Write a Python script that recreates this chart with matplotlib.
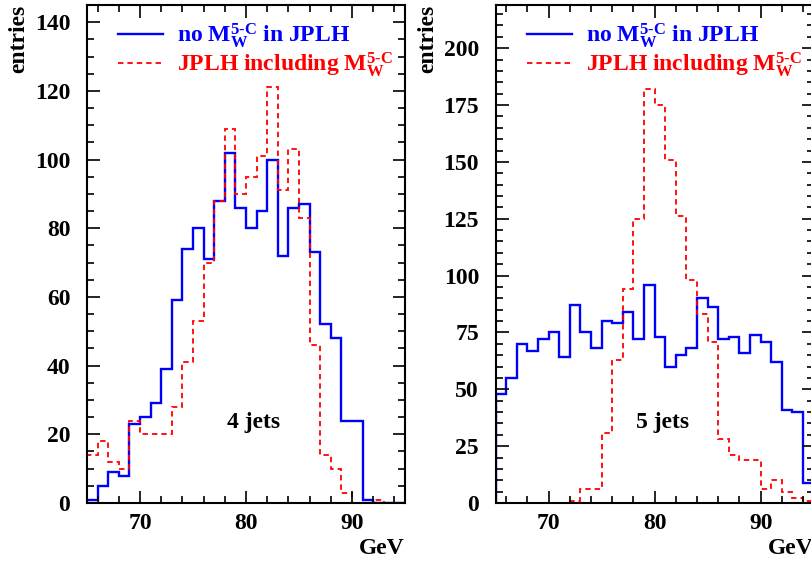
import numpy as np
import matplotlib
matplotlib.use('Agg')
import matplotlib.pyplot as plt
from matplotlib.ticker import MultipleLocator

# ---- data (1 GeV bins from 65 to 95 GeV) ----
bin_edges = np.arange(65, 96, 1)

jets4_no_mw = [1, 5, 9, 8, 23, 25, 29, 39, 59, 74, 80, 71, 88, 102, 86,
               80, 85, 100, 72, 86, 87, 73, 52, 48, 24, 24, 1, 0, 0, 0]
jets4_with_mw = [14, 18, 12, 10, 24, 20, 20, 20, 28, 41, 53, 70, 88, 109, 90,
                 95, 101, 121, 91, 103, 83, 46, 14, 10, 3, 0, 0, 1, 0, 0]

jets5_no_mw = [48, 55, 70, 67, 72, 75, 64, 87, 75, 68, 80, 79, 84, 72, 96,
               73, 60, 65, 68, 90, 86, 72, 73, 66, 74, 71, 62, 41, 40, 9]
jets5_with_mw = [0, 0, 0, 0, 0, 0, 0, 1, 6, 6, 31, 63, 94, 125, 182,
                 175, 151, 126, 98, 83, 71, 28, 21, 19, 19, 6, 10, 5, 2, 1]

panel_labels = ['4 jets', '5 jets']
series_labels = [r'no $\mathrm{M}_{\mathrm{W}}^{\mathrm{5\text{-}C}}$ in JPLH',
                 r'JPLH including $\mathrm{M}_{\mathrm{W}}^{\mathrm{5\text{-}C}}$']
x_ticks = [70, 80, 90]

plt.rcParams['font.family'] = ['Liberation Serif', 'DejaVu Serif']
plt.rcParams['font.weight'] = 'bold'
plt.rcParams['mathtext.fontset'] = 'custom'
plt.rcParams['mathtext.rm'] = 'Liberation Serif:bold'
plt.rcParams['mathtext.it'] = 'Liberation Serif:bold'
plt.rcParams['mathtext.bf'] = 'Liberation Serif:bold'

W, H = 812, 565
fig = plt.figure(figsize=(W / 100, H / 100), dpi=100)
ax1 = fig.add_axes([87 / W, 62 / H, 318 / W, 498 / H])
ax2 = fig.add_axes([495.7 / W, 62 / H, 318 / W, 498 / H])

configs = [
    (ax1, jets4_no_mw, jets4_with_mw, 145, 20, 5, panel_labels[0]),
    (ax2, jets5_no_mw, jets5_with_mw, 219, 25, 5, panel_labels[1]),
]

for ax, blue_vals, red_vals, ymax, ymaj, ymin, plabel in configs:
    ax.stairs(blue_vals, bin_edges, color='#0000ff', lw=1.7, label=series_labels[0])
    ax.stairs(red_vals, bin_edges, color='#ff0000', lw=1.3, linestyle=(0, (3, 2.2)),
              label=series_labels[1])
    ax.set_xlim(65, 95)
    ax.set_ylim(0, ymax)
    ax.xaxis.set_major_locator(MultipleLocator(10))
    ax.xaxis.set_minor_locator(MultipleLocator(2))
    ax.yaxis.set_major_locator(MultipleLocator(ymaj))
    ax.yaxis.set_minor_locator(MultipleLocator(ymin))
    ax.set_xticks(x_ticks)
    ax.tick_params(which='both', direction='in', top=True, right=True,
                   labelsize=17, width=1.2, colors='black')
    ax.tick_params(which='major', length=9)
    ax.tick_params(which='minor', length=5)
    ax.tick_params(axis='y', pad=12)
    ax.tick_params(axis='x', pad=7)
    for lab in ax.get_xticklabels() + ax.get_yticklabels():
        lab.set_fontweight('bold')
    for sp in ax.spines.values():
        sp.set_linewidth(1.5)
    ax.text(0.525, 0.161, plabel, transform=ax.transAxes, ha='center', va='center',
            fontsize=17, fontweight='bold')
    ax.text(-0.215, 1.0, 'entries', transform=ax.transAxes, rotation=90,
            ha='center', va='top', fontsize=17, fontweight='bold')
    ax.text(1.0, -0.092, 'GeV', transform=ax.transAxes, ha='right', va='center',
            fontsize=17, fontweight='bold')
    leg = ax.legend(loc='upper left', bbox_to_anchor=(0.098, 0.968), frameon=False,
                    fontsize=17, handlelength=1.9, handletextpad=0.6,
                    labelspacing=0.0, borderaxespad=0, borderpad=0)
    for txt, col in zip(leg.get_texts(), ['#0000ff', '#ff0000']):
        txt.set_color(col)

fig.savefig('out.png', dpi=100)
